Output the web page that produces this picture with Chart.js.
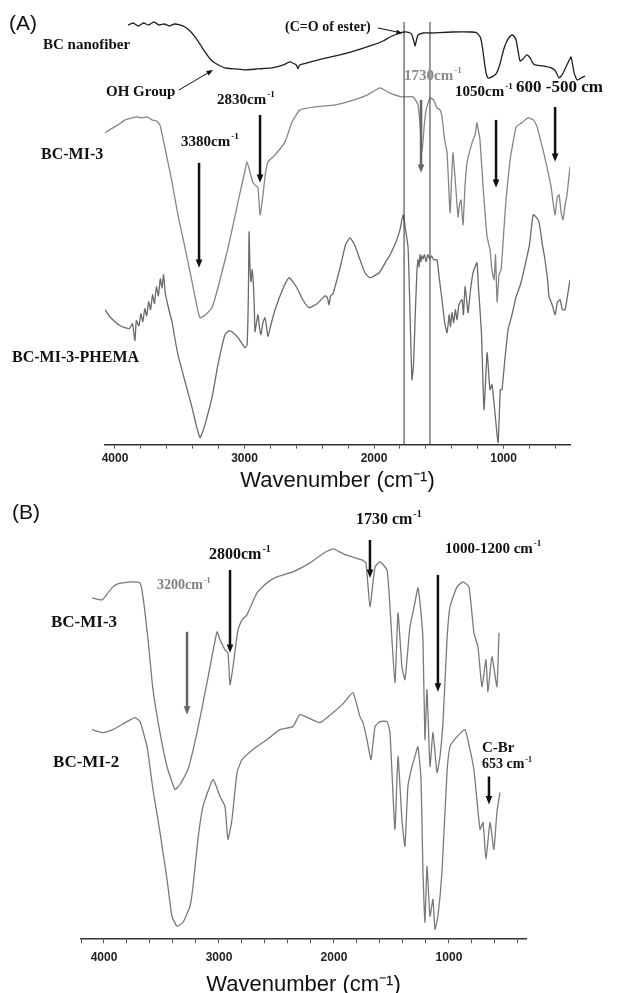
<!DOCTYPE html>
<html>
<head>
<meta charset="utf-8">
<script src="https://cdn.jsdelivr.net/npm/chart.js@4.4.1/dist/chart.umd.min.js"></script>
<style>
  html, body { margin: 0; padding: 0; background: #fff; overflow: hidden; }
  body { width: 617px; height: 993px; position: relative; }
  .panel { position: absolute; left: 0; width: 617px; }
  #wrapA { top: 0; height: 496px; }
  #wrapB { top: 495px; height: 508px; }
  .tag { position: absolute; font: 21px "Liberation Sans", Arial, sans-serif; color: #111; }
</style>
</head>
<body>
<div class="panel" id="wrapA"><canvas id="chartA"></canvas></div>
<div class="panel" id="wrapB"><canvas id="chartB"></canvas></div>
<div class="tag" style="left:9px;top:11px">(A)</div>
<div class="tag" style="left:12px;top:500px">(B)</div>
<script>
// ---- Panel A data (wavenumber cm-1 / transmittance, arbitrary offset units) ----
const nanoWn = [3900, 3860, 3820, 3780, 3740, 3700, 3660, 3620, 3580, 3540, 3500, 3459, 3420, 3382, 3340, 3305, 3265, 3228, 3151, 3070, 2996, 2900, 2788, 2700, 2649, 2600, 2587, 2575, 2517, 2400, 2263, 2150, 2008, 1930, 1876, 1820, 1768, 1720, 1707, 1693, 1683, 1672, 1660, 1620, 1568, 1400, 1250, 1205, 1180, 1166, 1150, 1135, 1120, 1090, 1058, 1030, 1000, 981, 955, 934, 915, 903, 888, 873, 850, 820, 795, 775, 757, 700, 633, 600, 571, 540, 500, 479, 455, 432, 400, 371];
const nanoT  = [420, 422, 419, 422, 420, 423, 420, 421, 419, 421, 420, 418, 414, 408, 400, 393, 386, 382, 377, 376, 375, 376, 377, 380, 383, 380, 376, 380, 382, 386, 390, 394, 400, 404, 408, 411, 413, 412, 410, 404, 399, 405, 410, 412, 412, 413, 413, 412, 408, 400, 385, 372, 367, 368, 371, 380, 395, 402, 408, 410, 408, 405, 394, 384, 386, 390, 387, 382, 380, 379, 377, 374, 367, 372, 383, 388, 372, 365, 367, 369];

const mi3aWn = [4077, 4030, 3977, 3920, 3869, 3830, 3790, 3750, 3714, 3680, 3653, 3635, 3614, 3590, 3560, 3514, 3459, 3405, 3370, 3344, 3300, 3251, 3205, 3127, 3050, 3000, 2981, 2958, 2934, 2910, 2896, 2880, 2857, 2840, 2819, 2764, 2687, 2633, 2571, 2456, 2300, 2154, 2050, 1954, 1880, 1784, 1699, 1660, 1645, 1629, 1612, 1598, 1568, 1540, 1514, 1490, 1475, 1455, 1436, 1413, 1400, 1390, 1375, 1351, 1340, 1328, 1313, 1297, 1282, 1259, 1236, 1220, 1205, 1195, 1182, 1158, 1127, 1104, 1090, 1073, 1062, 1050, 1035, 1019, 1000, 981, 950, 930, 903, 860, 811, 770, 741, 715, 695, 660, 633, 615, 602, 585, 571, 555, 541, 525, 510, 500, 487];
const mi3aT  = [312, 316, 320, 325, 327, 328, 327, 328, 325, 324, 320, 310, 297, 282, 263, 230, 197, 163, 140, 127, 130, 137, 157, 197, 243, 272, 283, 273, 262, 259, 257, 230, 250, 270, 283, 290, 303, 323, 335, 338, 340, 345, 350, 357, 352, 348, 348, 340, 320, 293, 320, 335, 347, 345, 337, 335, 328, 305, 292, 232, 270, 292, 268, 228, 240, 245, 220, 260, 282, 295, 305, 310, 322, 315, 305, 258, 208, 195, 175, 165, 190, 143, 170, 175, 210, 245, 285, 300, 318, 322, 327, 325, 318, 305, 295, 275, 258, 240, 230, 248, 250, 232, 225, 240, 250, 262, 278];

const phemaWn = [4077, 4040, 4000, 3960, 3923, 3890, 3865, 3846, 3835, 3815, 3800, 3785, 3770, 3755, 3740, 3725, 3710, 3695, 3680, 3665, 3650, 3637, 3625, 3612, 3598, 3580, 3560, 3540, 3514, 3459, 3405, 3370, 3344, 3325, 3305, 3251, 3205, 3151, 3120, 3097, 3050, 2996, 2980, 2970, 2965, 2958, 2950, 2942, 2934, 2925, 2919, 2910, 2896, 2885, 2873, 2858, 2842, 2830, 2819, 2800, 2764, 2700, 2656, 2600, 2550, 2502, 2440, 2378, 2360, 2347, 2335, 2317, 2260, 2220, 2185, 2150, 2108, 2070, 2031, 1960, 1900, 1876, 1830, 1800, 1776, 1760, 1737, 1720, 1707, 1695, 1683, 1670, 1660, 1652, 1645, 1638, 1630, 1622, 1610, 1598, 1585, 1570, 1555, 1540, 1514, 1495, 1475, 1455, 1436, 1420, 1410, 1398, 1385, 1372, 1359, 1345, 1320, 1310, 1297, 1285, 1274, 1255, 1236, 1220, 1205, 1195, 1182, 1170, 1158, 1150, 1127, 1105, 1089, 1065, 1042, 1025, 1012, 990, 965, 935, 903, 870, 842, 800, 772, 750, 726, 700, 680, 660, 649, 625, 602, 585, 564, 545, 525, 505, 487];
const phemaT  = [135, 128, 123, 119, 117, 116, 121, 104, 124, 119, 131, 123, 136, 129, 143, 135, 150, 141, 158, 149, 166, 157, 170, 152, 143, 133, 123, 108, 90, 63, 37, 18, 7, 12, 20, 47, 80, 110, 114, 113, 107, 97, 100, 150, 213, 180, 163, 175, 167, 140, 113, 120, 130, 118, 110, 122, 127, 118, 108, 118, 135, 157, 167, 158, 145, 137, 141, 149, 147, 140, 149, 151, 178, 200, 207, 200, 185, 172, 167, 172, 185, 190, 203, 215, 230, 218, 197, 120, 65, 80, 125, 170, 185, 178, 190, 183, 189, 186, 190, 183, 190, 186, 189, 185, 185, 165, 145, 122, 112, 130, 118, 132, 122, 135, 125, 140, 145, 130, 158, 145, 132, 155, 172, 178, 182, 160, 135, 110, 58, 35, 92, 55, 60, 30, 2, 55, 55, 85, 115, 130, 148, 160, 175, 200, 230, 228, 223, 200, 185, 165, 148, 140, 130, 142, 145, 135, 135, 150, 165];

const markerWn = [1768, 1568];

// ---- Panel B data ----
const mi3bWn = [4104, 4017, 3960, 3922, 3880, 3835, 3760, 3687, 3661, 3617, 3574, 3513, 3452, 3383, 3339, 3270, 3191, 3104, 3017, 2991, 2948, 2922, 2904, 2878, 2835, 2800, 2757, 2670, 2583, 2496, 2357, 2209, 2100, 2009, 1950, 1896, 1757, 1722, 1687, 1643, 1600, 1539, 1513, 1470, 1443, 1409, 1383, 1365, 1339, 1296, 1270, 1243, 1226, 1209, 1191, 1165, 1139, 1104, 1078, 1052, 1017, 991, 930, 878, 826, 783, 748, 713, 678, 661, 626, 583, 565];
const mi3bT  = [342, 340, 348, 353, 356, 357, 358, 357, 343, 300, 250, 207, 173, 150, 155, 170, 207, 257, 308, 300, 290, 287, 255, 273, 310, 320, 325, 347, 357, 363, 368, 377, 386, 391, 388, 385, 380, 377, 333, 373, 378, 370, 333, 257, 327, 273, 260, 280, 313, 337, 352, 327, 300, 200, 250, 173, 207, 167, 183, 217, 300, 333, 353, 358, 353, 307, 293, 253, 280, 248, 283, 253, 307];

const mi2Wn = [4104, 4009, 3922, 3800, 3730, 3687, 3626, 3574, 3513, 3452, 3409, 3365, 3313, 3252, 3226, 3183, 3139, 3052, 2991, 2948, 2922, 2887, 2843, 2800, 2704, 2583, 2470, 2357, 2296, 2122, 2009, 1920, 1835, 1774, 1748, 1713, 1678, 1643, 1600, 1539, 1513, 1470, 1443, 1409, 1383, 1357, 1322, 1296, 1270, 1243, 1226, 1209, 1191, 1165, 1139, 1122, 1096, 1061, 1017, 991, 930, 861, 817, 783, 730, 704, 678, 643, 609, 583, 557];
const mi2T  = [210, 207, 210, 218, 222, 218, 193, 150, 107, 60, 23, 13, 17, 33, 53, 100, 133, 160, 143, 133, 100, 120, 167, 180, 190, 200, 210, 213, 225, 217, 227, 236, 247, 223, 217, 200, 180, 213, 218, 218, 207, 110, 183, 120, 93, 153, 173, 183, 193, 160, 67, 17, 73, 23, 40, 10, 23, 67, 167, 193, 203, 210, 190, 170, 110, 117, 80, 117, 90, 127, 147];

const tickLabels = [4000, 3000, 2000, 1000];
const tickStep = 200;

// ---- annotations (data coordinates) ----
const notesA = [
  { x: 4556, y: 400, text: 'BC nanofiber', size: 15 },
  { x: 4069, y: 353, text: 'OH Group', size: 15 },
  { x: 3212, y: 345, text: '2830cm', sup: '-1', size: 15 },
  { x: 3490, y: 303, text: '3380cm', sup: '-1', size: 15 },
  { x: 4571, y: 290, text: 'BC-MI-3', size: 16 },
  { x: 2687, y: 418, text: '(C=O of ester)', size: 14 },
  { x: 1768, y: 369, text: '1730cm', sup: '-1', size: 15, color: '#8a8a8a' },
  { x: 1375, y: 353, text: '1050cm', sup: '-1', size: 15 },
  { x: 903,  y: 357, text: '600 -500 cm', size: 17 },
  { x: 4795, y: 87,  text: 'BC-MI-3-PHEMA', size: 16 }
];
const arrowsA = [
  { x1: 3506, y1: 355, x2: 3243, y2: 375, w: 1, head: 7 },
  { x1: 2880, y1: 330, x2: 2880, y2: 262 },
  { x1: 3351, y1: 282, x2: 3351, y2: 177 },
  { x1: 1969, y1: 417, x2: 1784, y2: 412, w: 1, head: 6 },
  { x1: 1637, y1: 345, x2: 1637, y2: 272, color: '#666' },
  { x1: 1058, y1: 325, x2: 1058, y2: 257 },
  { x1: 602,  y1: 338, x2: 602,  y2: 283 }
];
const notesB = [
  { x: 1809, y: 420, text: '1730 cm', sup: '-1', size: 16 },
  { x: 3087, y: 385, text: '2800cm', sup: '-1', size: 16 },
  { x: 1035, y: 391, text: '1000-1200 cm', sup: '-1', size: 15 },
  { x: 3539, y: 354, text: '3200cm', sup: '-1', size: 14, color: '#808080' },
  { x: 4461, y: 317, text: 'BC-MI-3', size: 17 },
  { x: 4443, y: 177, text: 'BC-MI-2', size: 17 },
  { x: 713,  y: 191, text: 'C-Br', size: 15 },
  { x: 713,  y: 175, text: '653 cm', sup: '-1', size: 14 }
];
const arrowsB = [
  { x1: 1687, y1: 400, x2: 1687, y2: 362 },
  { x1: 2904, y1: 370, x2: 2904, y2: 287 },
  { x1: 1096, y1: 365, x2: 1096, y2: 248 },
  { x1: 3278, y1: 308, x2: 3278, y2: 225, color: '#666' },
  { x1: 652,  y1: 163, x2: 652,  y2: 135 }
];

function series(wn, t) { return wn.map((x, i) => ({ x, y: t[i] })); }

function drawArrow(ctx, x1, y1, x2, y2, a) {
  const col = a.color || '#111';
  const head = a.head || 9;
  const ang = Math.atan2(y2 - y1, x2 - x1);
  ctx.strokeStyle = col;
  ctx.fillStyle = col;
  ctx.lineWidth = a.w || 2.5;
  ctx.beginPath();
  ctx.moveTo(x1, y1);
  ctx.lineTo(x2 - Math.cos(ang) * head * 0.8, y2 - Math.sin(ang) * head * 0.8);
  ctx.stroke();
  ctx.beginPath();
  ctx.moveTo(x2, y2);
  ctx.lineTo(x2 - head * Math.cos(ang - 0.38), y2 - head * Math.sin(ang - 0.38));
  ctx.lineTo(x2 - head * Math.cos(ang + 0.38), y2 - head * Math.sin(ang + 0.38));
  ctx.closePath();
  ctx.fill();
}

function notesPlugin(id, notes, arrows) {
  return {
    id,
    afterDatasetsDraw(chart) {
      const { ctx, scales: { x, y } } = chart;
      ctx.save();
      arrows.forEach(a => drawArrow(ctx, x.getPixelForValue(a.x1), y.getPixelForValue(a.y1),
        x.getPixelForValue(a.x2), y.getPixelForValue(a.y2), a));
      ctx.textBaseline = 'middle';
      ctx.textAlign = 'left';
      notes.forEach(n => {
        const px = x.getPixelForValue(n.x), py = y.getPixelForValue(n.y);
        ctx.fillStyle = n.color || '#111';
        ctx.font = `bold ${n.size}px "Liberation Serif", "Times New Roman", serif`;
        ctx.fillText(n.text, px, py);
        if (n.sup) {
          const w = ctx.measureText(n.text).width;
          ctx.font = `bold ${Math.round(n.size * 0.6)}px "Liberation Serif", serif`;
          ctx.fillText(n.sup, px + w + 1, py - n.size * 0.35);
        }
      });
      ctx.restore();
    }
  };
}

function xAxis(min, max, tickPad, titlePadTop, titleLineHeight) {
  return {
    type: 'linear', reverse: true, min, max,
    afterBuildTicks: s => {
      const t = [];
      for (let v = Math.ceil(s.min / tickStep) * tickStep; v <= s.max; v += tickStep) t.push({ value: v });
      s.ticks = t.reverse();
    },
    ticks: {
      autoSkip: false, maxRotation: 0, padding: tickPad,
      color: '#222', font: { family: '"Liberation Sans", Arial, sans-serif', weight: 'bold', size: 12 },
      callback: v => tickLabels.includes(v) ? String(v) : ''
    },
    grid: { display: true, drawOnChartArea: false, drawTicks: true, tickLength: 4, color: '#555' },
    border: { display: true, color: '#333', width: 1.5 },
    title: {
      display: true, text: 'Wavenumber (cm\u207B\u00B9)', color: '#111',
      font: { family: '"Liberation Sans", Arial, sans-serif', size: 22, lineHeight: titleLineHeight },
      padding: { top: titlePadTop, bottom: 4 }
    }
  };
}

const baseOpts = {
  responsive: true, maintainAspectRatio: false, animation: false,
  plugins: { legend: { display: false }, tooltip: { enabled: false } },
  elements: { point: { radius: 0 }, line: { tension: 0.15, borderWidth: 1.3 } }
};

new Chart(document.getElementById('chartA'), {
  type: 'line',
  data: {
    datasets: [
      ...markerWn.map(w => ({ data: [{ x: w, y: 0 }, { x: w, y: 423 }], borderColor: '#333', borderWidth: 1, tension: 0 })),
      { label: 'BC nanofiber', data: series(nanoWn, nanoT), borderColor: '#1e1e1e', clip: false },
      { label: 'BC-MI-3', data: series(mi3aWn, mi3aT), borderColor: '#858585' },
      { label: 'BC-MI-3-PHEMA', data: series(phemaWn, phemaT), borderColor: '#6a6a6a' }
    ]
  },
  options: {
    ...baseOpts,
    layout: { padding: { left: 105, right: 47, top: 22, bottom: 0 } },
    scales: { x: xAxis(487, 4077, 3, 1, 1), y: { display: false, min: 0, max: 423 } }
  },
  plugins: [notesPlugin('notesA', notesA, arrowsA)]
});

new Chart(document.getElementById('chartB'), {
  type: 'line',
  data: {
    datasets: [
      { label: 'BC-MI-3', data: series(mi3bWn, mi3bT), borderColor: '#7a7a7a' },
      { label: 'BC-MI-2', data: series(mi2Wn, mi2T), borderColor: '#7a7a7a' }
    ]
  },
  options: {
    ...baseOpts,
    layout: { padding: { left: 81, right: 91, top: 25, bottom: 1 } },
    scales: { x: xAxis(330, 4200, 7, 0, 1.2), y: { display: false, min: 0, max: 420 } }
  },
  plugins: [notesPlugin('notesB', notesB, arrowsB)]
});
</script>
</body>
</html>
